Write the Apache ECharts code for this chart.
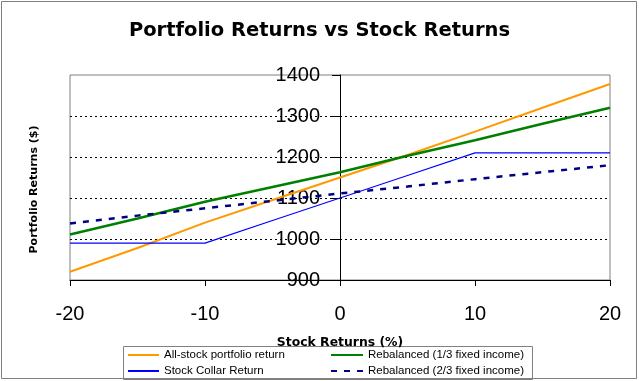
<!DOCTYPE html>
<html><head><meta charset="utf-8">
<script src="https://cdn.jsdelivr.net/npm/echarts@6/dist/echarts.min.js"></script>
<style>html,body{margin:0;padding:0;background:#fff}#c{width:639px;height:381px}</style>
</head><body><div id="c"></div>
<script>
const stockReturns = [-20, -15, -10, -5, 0, 5, 10, 15, 20];
const allStock = [920, 978, 1040, 1095, 1150, 1205, 1262, 1320, 1378];
const rebal13 = [1011, 1050, 1091, 1127, 1163, 1203, 1241, 1281, 1320];
const collar = [990, 990, 990, 1045, 1100, 1155, 1210, 1210, 1210];
const rebal23 = [1038, 1057, 1075, 1093, 1111, 1128, 1146, 1163, 1180];
const xTicks = [-20, -10, 0, 10, 20];
const yTicks = [900, 1000, 1100, 1200, 1300, 1400];
const names = ['All-stock portfolio return', 'Stock Collar Return', 'Rebalanced (1/3 fixed income)', 'Rebalanced (2/3 fixed income)'];

const pairs = arr => stockReturns.map((x, i) => [x, arr[i]]);
const chart = echarts.init(document.getElementById('c'), null, {renderer: 'canvas'});
const font = 'Liberation Sans, Arial, sans-serif';
const legendBase = {
  orient: 'vertical', top: 349, padding: 0, itemHeight: 12, itemGap: 4,
  textStyle: {fontFamily: font, fontSize: 11.5, color: '#000'}, selectedMode: false,
  itemStyle: {color: 'rgba(0,0,0,0)', borderWidth: 0, opacity: 0}
};
chart.setOption({
  animation: false,
  backgroundColor: '#fff',
  title: {
    text: 'Portfolio Returns vs Stock Returns', left: 'center', top: 16,
    textStyle: {fontFamily: 'DejaVu Sans', fontWeight: 'bold', fontSize: 19.5, color: '#000'}
  },
  grid: {left: 70, right: 29, top: 75, bottom: 101, show: true, borderColor: '#808080', borderWidth: 1, containLabel: false, outerBoundsMode: 'none'},
  legend: [
    Object.assign({}, legendBase, {left: 127, itemWidth: 31, data: [names[0], names[1]]}),
    Object.assign({}, legendBase, {left: 330, itemWidth: 32, data: [names[2], names[3]]})
  ],
  xAxis: {
    type: 'value', min: xTicks[0], max: xTicks[xTicks.length - 1], interval: 10,
    name: 'Stock Returns (%)', nameLocation: 'middle', nameGap: 57,
    nameTextStyle: {fontFamily: 'DejaVu Sans', fontWeight: 'bold', fontSize: 12.4, color: '#000'},
    axisLine: {onZero: false, lineStyle: {color: '#000', width: 1}},
    axisTick: {show: true, inside: false, length: 6, lineStyle: {color: '#000'}},
    axisLabel: {margin: 24, fontFamily: font, fontSize: 20, color: '#000', formatter: v => String(v)},
    splitLine: {show: false}
  },
  yAxis: {
    type: 'value', position: 'left', offset: -270,
    min: yTicks[0], max: yTicks[yTicks.length - 1], interval: 100,
    name: 'Portfolio Returns ($)', nameLocation: 'middle', nameGap: 300, nameRotate: 90,
    nameTextStyle: {fontFamily: 'DejaVu Sans', fontWeight: 'bold', fontSize: 11, color: '#000', padding: [0, 24, 0, 0]},
    axisLine: {onZero: false, lineStyle: {color: '#000', width: 1}},
    axisTick: {show: true, inside: false, length: 8, lineStyle: {color: '#000'}},
    axisLabel: {margin: 20, fontFamily: font, fontSize: 20, color: '#000', formatter: v => String(v)},
    splitLine: {show: true, lineStyle: {type: [2, 3], color: ['rgba(0,0,0,0)', '#000', '#000', '#000', '#000', 'rgba(0,0,0,0)'], width: 1}}
  },
  graphic: [
    {type: 'rect', shape: {x: 1.5, y: 1.5, width: 635, height: 377}, style: {fill: 'none', stroke: '#808080', lineWidth: 1}, silent: true, z: -1},
    {type: 'rect', shape: {x: 123.5, y: 346.5, width: 409, height: 33}, style: {fill: 'none', stroke: '#808080', lineWidth: 1}, silent: true, z: -1}
  ],
  series: [
    {name: names[0], type: 'line', data: pairs(allStock), symbol: 'none', lineStyle: {color: '#FF9900', width: 2}, itemStyle: {color: '#FF9900'}, z: 3},
    {name: names[1], type: 'line', data: pairs(collar), symbol: 'none', lineStyle: {color: '#0000FF', width: 1.2}, itemStyle: {color: '#0000FF'}, z: 4},
    {name: names[2], type: 'line', data: pairs(rebal13), symbol: 'none', lineStyle: {color: '#008000', width: 2.5}, itemStyle: {color: '#008000'}, z: 3},
    {name: names[3], type: 'line', data: pairs(rebal23), symbol: 'none', lineStyle: {color: '#000080', width: 2.5, type: [6, 7]}, itemStyle: {color: '#000080'}, z: 5}
  ]
});
</script></body></html>
